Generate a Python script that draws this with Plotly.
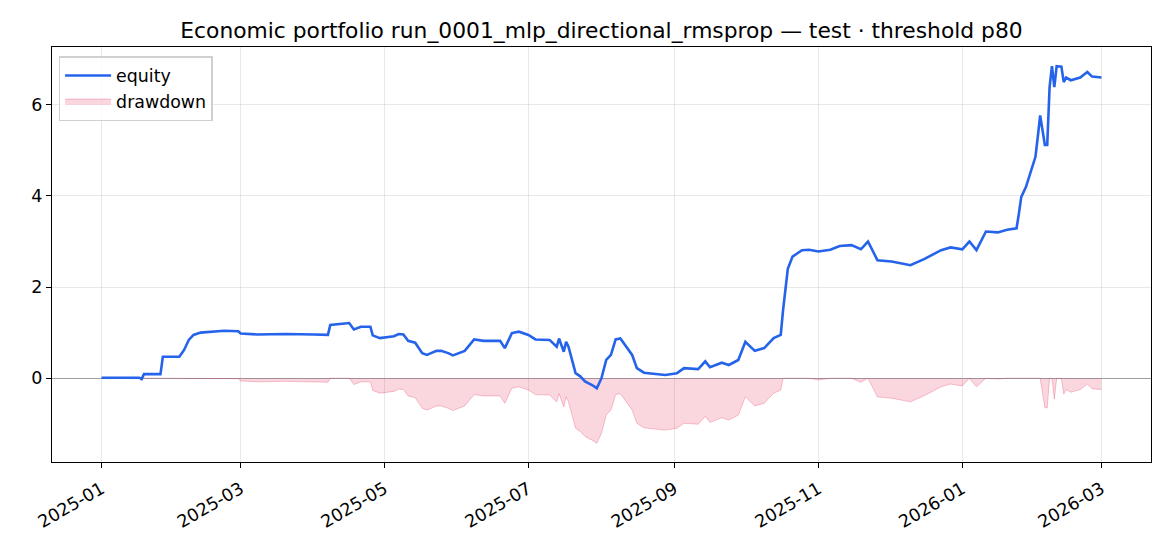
import numpy as np
import pandas as pd
import plotly.graph_objects as go

# days since 2025-01-01 and equity
start_date = "2025-01-01"
day_offsets = [0, 16, 17, 18, 25, 26, 33, 35, 37, 39, 42, 52, 58, 59, 66, 78, 90, 96, 97,
               105, 107, 110, 114, 115, 118, 121, 124, 126, 128, 130, 133, 136, 138, 142,
               144, 147, 149, 154, 158, 162, 169, 171, 174, 177, 181, 184, 190, 193, 194,
               196, 197, 198, 201, 203, 205, 208, 210, 212, 214, 216, 218, 220, 223, 225,
               227, 230, 239, 244, 247, 253, 256, 258, 263, 266, 270, 273, 277, 281, 285,
               288, 289, 290, 291, 293, 297, 300, 304, 309, 313, 318, 322, 325, 329, 335,
               343, 349, 356, 360, 365, 368, 371, 375, 380, 384, 388, 389, 390, 392, 395,
               396, 397, 398, 400, 401, 402, 403, 404, 405, 407, 408, 409, 411, 415, 418,
               420, 424]
equity = [0.01, 0.01, -0.02, 0.09, 0.09, 0.47, 0.47, 0.62, 0.84, 0.95, 1.00, 1.04, 1.03, 0.98,
          0.96, 0.97, 0.96, 0.95, 1.17, 1.21, 1.07, 1.13, 1.13, 0.94, 0.88, 0.90, 0.92, 0.97,
          0.96, 0.82, 0.78, 0.55, 0.51, 0.60, 0.60, 0.55, 0.50, 0.60, 0.85, 0.82, 0.82, 0.66,
          0.99, 1.02, 0.95, 0.85, 0.84, 0.69, 0.87, 0.58, 0.80, 0.69, 0.11, 0.04, -0.07, -0.15,
          -0.22, 0.00, 0.40, 0.51, 0.85, 0.87, 0.66, 0.51, 0.22, 0.12, 0.07, 0.11, 0.22, 0.20,
          0.37, 0.24, 0.34, 0.29, 0.40, 0.80, 0.60, 0.66, 0.88, 0.95, 1.50, 2.00, 2.40, 2.67,
          2.81, 2.82, 2.78, 2.82, 2.90, 2.92, 2.83, 3.00, 2.59, 2.56, 2.48, 2.62, 2.81, 2.87,
          2.83, 3.00, 2.81, 3.22, 3.20, 3.26, 3.29, 3.62, 3.98, 4.20, 4.71, 4.86, 5.30, 5.77,
          5.12, 5.12, 6.39, 6.85, 6.39, 6.85, 6.84, 6.50, 6.60, 6.54, 6.60, 6.72, 6.62, 6.60]

dates = pd.Timestamp(start_date) + pd.to_timedelta(day_offsets, unit="D")
eq = np.array(equity)
drawdown = eq - np.maximum.accumulate(eq)

fig = go.Figure()
fig.add_trace(go.Scatter(
    x=dates, y=drawdown, mode="lines", name="drawdown",
    fill="tozeroy", fillcolor="rgba(225, 29, 72, 0.18)",
    line=dict(color="rgba(225, 29, 72, 0.25)", width=1),
))
fig.add_trace(go.Scatter(
    x=dates, y=equity, mode="lines", name="equity",
    line=dict(color="#2563eb", width=2.6),
))

axis_common = dict(
    showline=True, linecolor="black", linewidth=1.2, mirror=True,
    ticks="outside", ticklen=5, tickcolor="black",
    showgrid=True, gridcolor="rgba(0,0,0,0.09)", gridwidth=1,
    tickfont=dict(size=17.5, color="black"),
)

# page adds an 8px body margin, so the figure is a bit smaller than the window
fig.update_layout(
    width=1162, height=538,
    paper_bgcolor="white", plot_bgcolor="white",
    font=dict(family="DejaVu Sans", color="black"),
    margin=dict(l=44, r=19, t=39, b=84),
    title=dict(text="Economic portfolio run_0001_mlp_directional_rmsprop — test · threshold p80",
               x=0.5, xref="paper", xanchor="center", y=0.958, yanchor="middle",
               font=dict(size=21.8, color="black")),
    legend=dict(x=0.006, y=0.978, xanchor="left", yanchor="top",
                bgcolor="rgba(255,255,255,0.8)", bordercolor="#d0d0d0", borderwidth=1.5,
                font=dict(size=17.4), traceorder="reversed", itemwidth=46),
    showlegend=True,
)
fig.update_xaxes(range=["2024-12-11", "2026-03-22"], dtick="M2", tick0="2025-01-01",
                 tickformat="%Y-%m", tickangle=-30, ticklabelstandoff=4,
                 zeroline=False, **axis_common)
fig.update_yaxes(range=[-1.84, 7.27], tickvals=[0, 2, 4, 6],
                 zeroline=True, zerolinecolor="#9aa0a6", zerolinewidth=1.2, **axis_common)

fig.write_html("out.html")
